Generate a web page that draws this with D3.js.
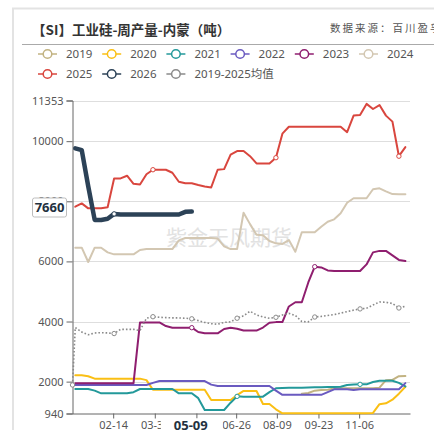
<!DOCTYPE html>
<html>
<head>
<meta charset="utf-8">
<script src="https://cdn.jsdelivr.net/npm/d3@7"></script>
<style>
  body { margin: 0; background: #fff; }
  svg { display: block; }
</style>
</head>
<body>
<div id="chart"></div>
<script>
// ---- data (weekly) ----
const weeks = ["01-04","01-11","01-18","01-25","02-01","02-08","02-15","02-22","02-29","03-07",
  "03-14","03-21","03-28","04-04","04-11","04-18","04-25","05-02","05-09","05-16",
  "05-23","05-30","06-06","06-13","06-20","06-27","07-04","07-11","07-18","07-25",
  "08-01","08-08","08-15","08-22","08-29","09-05","09-12","09-19","09-26","10-03",
  "10-10","10-17","10-24","10-31","11-07","11-14","11-21","11-28","12-05","12-12",
  "12-19","12-26"];

const v2019 = [null,null,null,null,null,null,null,null,null,null,null,null,null,null,null,null,null,null,null,null,
  null,null,null,null,null,null,null,null,null,null,null,null,null,null,null,
  1600,1620,1700,1722,1730,1770,1780,1780,1780,1780,1780,1780,1800,2050,2060,2180,2190];
const v2020 = [2210,2210,2180,2100,2100,2100,2100,2100,2100,2100,2100,2050,1730,1730,1730,1730,1730,1730,1730,1730,
  1730,1390,1390,1390,1390,1550,1690,1690,1690,1256,1256,1080,947,947,947,947,947,947,947,947,
  947,947,947,947,947,947,960,1250,1280,1400,1600,1830];
const v2021 = [1755,1755,1755,1700,1612,1612,1612,1612,1612,1650,1755,1755,1755,1755,1755,1755,1612,1612,1612,1450,
  1056,1056,1056,1056,1300,1510,1500,1500,1500,1500,1650,1780,1790,1795,1800,1800,1805,1810,1815,1820,
  1825,1830,1890,1905,1910,1910,1990,2030,2030,2030,1960,1840];
const v2022 = [1888,1888,1888,1888,1888,1888,1888,1888,1888,1888,1888,1888,1960,2021,2021,2021,2021,2021,2021,2021,
  2021,1900,1855,1855,1855,1855,1855,1855,1855,1855,1855,1700,1560,1560,1560,1560,1560,1560,1560,1650,
  1745,1745,1745,1720,1745,1745,1745,1745,1745,1745,1745,1950];
const v2023 = [1950,1950,1950,1950,1950,1950,1950,1950,1950,1950,3970,3970,3970,3970,3850,3795,3795,3795,3795,3650,
  3608,3608,3608,3750,3795,3760,3700,3700,3700,3800,3960,3980,3980,4500,4640,4640,5300,5824,5800,5700,
  5680,5680,5680,5680,5680,5900,6300,6350,6350,6200,6050,6013];
const v2024 = [6456,6456,5980,6456,6456,6300,6235,6235,6235,6235,6380,6410,6410,6410,6410,6410,6700,6780,6780,6780,
  6780,6780,6760,6500,6410,6410,7620,7240,6890,6870,6680,6600,6580,6710,6320,6970,6970,6970,7150,7320,
  7400,7600,7950,8100,8100,8100,8400,8430,8330,8240,8230,8230];
const v2025 = [7820,7930,7765,7765,7765,7800,8760,8760,8850,8580,8560,8900,9050,9050,9050,8950,8650,8600,8600,8540,
  8490,8460,9050,9070,9550,9670,9670,9500,9260,9260,9260,9450,10250,10480,10480,10480,10480,10480,10480,10480,
  10480,10480,10300,10850,10870,11240,11070,11200,10850,10650,9500,9800];
const v2026 = [9760,9700,8500,7380,7380,7420,7580,7560,7560,7560,7560,7560,7560,7560,7560,7560,7560,7650,7660];
const avgStartDate = "01-01";
const avgStartValue = 1890;
const vAvg = [3800,3650,3560,3620,3630,3620,3600,3740,3740,3740,3700,4110,4160,4140,4130,4120,4120,4110,4090,4030,
  3970,3930,3910,3970,3990,4110,4190,4340,4220,4150,4110,4140,4220,4270,4200,4000,3990,4150,4170,4200,
  4230,4280,4330,4380,4420,4440,4550,4650,4640,4600,4450,4510];

const yTicks = [940, 2000, 4000, 6000, 8000, 10000, 11353];
const xTicks = ["02-14","03-30","05-14","06-26","08-09","09-23","11-06"];
const focusDate = "05-09";
const focusValue = 7660;

// ---- series styling ----
const series = [
  { name: "2019", values: v2019, color: "#c2b382", width: 2, marks: [] },
  { name: "2020", values: v2020, color: "#fabf14", width: 2, marks: [] },
  { name: "2021", values: v2021, color: "#23999a", width: 2, marks: [25, 44] },
  { name: "2022", values: v2022, color: "#6a5ac0", width: 2, marks: [] },
  { name: "2023", values: v2023, color: "#8f1e6f", width: 2, marks: [18, 37] },
  { name: "2024", values: v2024, color: "#d3c7b2", width: 2, marks: [] },
  { name: "2025", values: v2025, color: "#d9463e", width: 2, marks: [12, 31, 50] },
  { name: "2026", values: v2026, color: "#2c4257", width: 4.5, marks: [6] }
];
const avgColor = "#8a8a8a";
const avgMarks = [6, 12, 18, 25, 31, 37, 44, 50];

const parse = d3.timeParse("%Y-%m-%d");
const toDate = s => parse("2024-" + s);

const svg = d3.select("#chart")
  .append("svg")
  .attr("width", 434)
  .attr("height", 430)
  .style("font-family", "'Noto Sans', 'Noto Sans CJK SC', sans-serif");

// card frame
svg.append("rect")
  .attr("x", 13).attr("y", 8.5)
  .attr("width", 450).attr("height", 450)
  .attr("fill", "none")
  .attr("stroke", "#e3e3e3")
  .attr("stroke-width", 2);

// title + source
svg.append("text")
  .attr("x", 32).attr("y", 34.5)
  .attr("font-family", "'Noto Sans CJK SC', sans-serif")
  .attr("font-size", 13.5).attr("font-weight", "bold")
  .attr("fill", "#333")
  .text("【SI】工业硅-周产量-内蒙（吨）");

svg.append("text")
  .attr("x", 330).attr("y", 32)
  .attr("font-family", "'Noto Sans CJK SC', sans-serif")
  .attr("font-size", 10.5)
  .attr("letter-spacing", 2)
  .attr("fill", "#555")
  .text("数据来源：百川盈孚");

svg.append("line")
  .attr("x1", 22).attr("x2", 434)
  .attr("y1", 44.5).attr("y2", 44.5)
  .attr("stroke", "#aaa");

// legend
const legendItems = series.map(s => ({ name: s.name, color: s.color }))
  .concat([{ name: "2019-2025均值", color: avgColor }]);
const leg = svg.append("g").selectAll("g")
  .data(legendItems)
  .enter()
  .append("g")
  .attr("transform", (d, i) => `translate(${38 + (i % 6) * 64.2},${i < 6 ? 54 : 74})`);
leg.append("line")
  .attr("x1", 0).attr("x2", 19)
  .attr("stroke", d => d.color)
  .attr("stroke-width", 1.5);
leg.append("circle")
  .attr("cx", 9.5).attr("r", 4.3)
  .attr("fill", "#fff")
  .attr("stroke", d => d.color)
  .attr("stroke-width", 1.5);
leg.append("text")
  .attr("x", 28)
  .attr("dy", "0.35em")
  .attr("font-size", 11.5)
  .attr("fill", "#555")
  .text(d => d.name);

// scales
const x = d3.scaleTime()
  .domain([toDate("01-01"), toDate("12-31")])
  .range([72.5, 410]);
const y = d3.scaleLinear()
  .domain([940, 11353])
  .range([413.5, 100.5]);

// watermark
svg.append("text")
  .attr("x", 166).attr("y", 245)
  .attr("font-family", "'Noto Sans CJK SC', sans-serif")
  .attr("font-size", 21)
  .attr("fill", "#e2e2e2")
  .text("紫金天风期货");

// grid
svg.append("g").selectAll("line")
  .data(yTicks.filter(t => t > 940))
  .enter()
  .append("line")
  .attr("x1", 72.5).attr("x2", 410)
  .attr("y1", d => Math.round(y(d)) + 0.5)
  .attr("y2", d => Math.round(y(d)) + 0.5)
  .attr("stroke", "#dedede");

// y axis
const yAxis = svg.append("g")
  .attr("transform", "translate(72.5,0)")
  .call(d3.axisLeft(y).tickValues(yTicks).tickSize(6).tickPadding(3).tickFormat(d3.format("d")));
yAxis.select(".domain").attr("stroke", "#666");
yAxis.selectAll(".tick line").attr("stroke", "#666");
yAxis.selectAll("text")
  .attr("font-size", 11)
  .attr("font-family", "'Noto Sans', sans-serif")
  .attr("fill", "#555");

// x axis
const xAxis = svg.append("g")
  .attr("transform", "translate(0,413.5)")
  .call(d3.axisBottom(x).tickValues(xTicks.map(toDate)).tickSize(5).tickSizeOuter(0).tickFormat(d3.timeFormat("%m-%d")));
xAxis.select(".domain").attr("stroke", "#666");
xAxis.selectAll(".tick line").attr("stroke", "#666");
xAxis.selectAll("text")
  .attr("font-size", 11)
  .attr("font-family", "'Noto Sans', sans-serif")
  .attr("fill", "#555")
  .attr("dy", 0)
  .attr("y", 15.5);

// lines
const line = d3.line()
  .defined(d => d.v != null)
  .x(d => x(d.date))
  .y(d => y(d.v));

const toPts = vals => vals.map((v, i) => ({ date: toDate(weeks[i]), v: v, i: i }));

const lines = svg.append("g");
series.forEach(s => {
  lines.append("path")
    .datum(toPts(s.values))
    .attr("d", line)
    .attr("fill", "none")
    .attr("stroke", s.color)
    .attr("stroke-width", s.width)
    .attr("stroke-linejoin", "round")
    .attr("stroke-linecap", "round");
});

const avgPts = [{ date: toDate(avgStartDate), v: avgStartValue, i: -1 }].concat(toPts(vAvg));
lines.append("path")
  .datum(avgPts)
  .attr("d", line)
  .attr("fill", "none")
  .attr("stroke", avgColor)
  .attr("stroke-width", 1.6)
  .attr("stroke-dasharray", "1.6,2");

// markers
series.forEach(s => {
  lines.selectAll(null)
    .data(toPts(s.values).filter(d => s.marks.includes(d.i)))
    .enter()
    .append("circle")
    .attr("cx", d => x(d.date))
    .attr("cy", d => y(d.v))
    .attr("r", 2.2)
    .attr("fill", "#fff")
    .attr("stroke", s.color)
    .attr("stroke-width", 1);
});
lines.selectAll(null)
  .data(avgPts.filter(d => d.i === -1 || avgMarks.includes(d.i)))
  .enter()
  .append("circle")
  .attr("cx", d => x(d.date))
  .attr("cy", d => y(d.v))
  .attr("r", 2.2)
  .attr("fill", "#fff")
  .attr("stroke", avgColor)
  .attr("stroke-width", 1);

// pointer labels (axis pointer at the last 2026 week)
const fx = x(toDate(focusDate));
svg.append("rect")
  .attr("x", fx - 31).attr("y", 418.5)
  .attr("width", 62).attr("height", 14)
  .attr("fill", "#fff");
svg.append("text")
  .attr("x", fx - 1).attr("y", 429.5)
  .attr("text-anchor", "middle")
  .attr("font-size", 13).attr("font-weight", "bold")
  .attr("font-family", "'Noto Sans', sans-serif")
  .attr("fill", "#23313f")
  .text(focusDate);

const fy = y(focusValue) - 4;
svg.append("rect")
  .attr("x", 32.5).attr("y", fy - 9.5)
  .attr("width", 34).attr("height", 19)
  .attr("rx", 2)
  .attr("fill", "#fff")
  .attr("stroke", "#bdbdbd");
svg.append("text")
  .attr("x", 49.5).attr("y", fy)
  .attr("dy", "0.36em")
  .attr("text-anchor", "middle")
  .attr("font-size", 13).attr("font-weight", "bold")
  .attr("font-family", "'Noto Sans', sans-serif")
  .attr("fill", "#23313f")
  .text(focusValue);
</script>
</body>
</html>
